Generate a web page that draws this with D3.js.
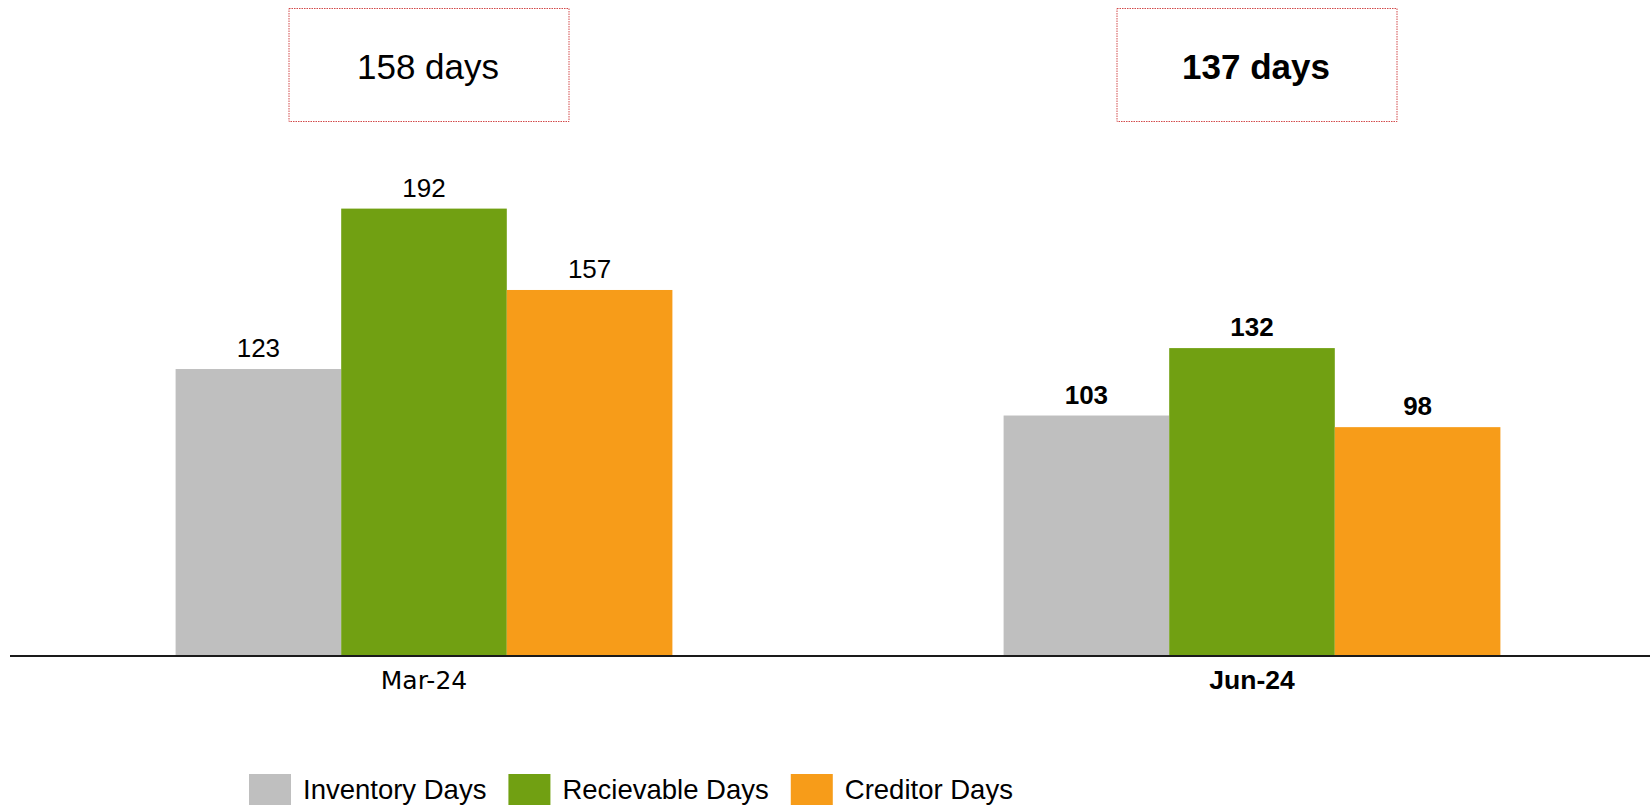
<!DOCTYPE html>
<html>
<head>
<meta charset="utf-8">
<script src="https://cdn.jsdelivr.net/npm/d3@7"></script>
<style>
  html, body { margin: 0; padding: 0; background: #ffffff; }
  svg { display: block; }
</style>
</head>
<body>
<svg id="chart" width="1650" height="805"></svg>
<script>
// Working-capital days by period
const periods = ["Mar-24", "Jun-24"];
const seriesNames = ["Inventory Days", "Recievable Days", "Creditor Days"];
const inventoryDays = [123, 103];
const receivableDays = [192, 132];
const creditorDays = [157, 98];
const cycleDays = [158, 137];
const seriesColors = ["#bfbfbf", "#71a012", "#f79c19"];
const boldPeriod = [false, true];

const seriesValues = [inventoryDays, receivableDays, creditorDays];

const svg = d3.select("#chart");
const W = 1650, H = 805;
const baseY = 655;

const x0 = d3.scaleBand()
  .domain(periods)
  .range([10, 1666])
  .paddingInner(0.4)
  .paddingOuter(0.2);

const x1 = d3.scaleBand()
  .domain(seriesNames)
  .range([0, x0.bandwidth()])
  .padding(0);

const y = d3.scaleLinear()
  .domain([0, 200])
  .range([baseY, 190]);

const color = d3.scaleOrdinal().domain(seriesNames).range(seriesColors);

const rows = periods.map((p, i) => ({
  period: p,
  bold: boldPeriod[i],
  cycle: cycleDays[i],
  values: seriesNames.map((s, k) => ({ series: s, value: seriesValues[k][i], bold: boldPeriod[i] }))
}));

// Bars
const groups = svg.append("g").selectAll("g")
  .data(rows)
  .join("g")
  .attr("transform", d => `translate(${x0(d.period)},0)`);

groups.selectAll("rect")
  .data(d => d.values)
  .join("rect")
  .attr("x", d => x1(d.series))
  .attr("y", d => y(d.value))
  .attr("width", x1.bandwidth())
  .attr("height", d => y(0) - y(d.value))
  .attr("fill", d => color(d.series));

// Value labels above bars
groups.selectAll("text.val")
  .data(d => d.values)
  .join("text")
  .attr("class", "val")
  .attr("x", d => x1(d.series) + x1.bandwidth() / 2)
  .attr("y", d => y(d.value) - 12)
  .attr("text-anchor", "middle")
  .attr("font-family", "'Liberation Sans', Arial, sans-serif")
  .attr("font-size", 26)
  .attr("font-weight", d => d.bold ? "bold" : "normal")
  .attr("fill", "#000")
  .text(d => d.value);

// Category axis
const axis = d3.axisBottom(x0).tickSize(0).tickPadding(0);
const axisG = svg.append("g")
  .attr("transform", `translate(0,${baseY})`)
  .call(axis);
axisG.select(".domain").remove();
axisG.append("line")
  .attr("x1", 10).attr("x2", W)
  .attr("y1", 1).attr("y2", 1)
  .attr("stroke", "#1a1a1a")
  .attr("stroke-width", 2);
axisG.selectAll(".tick text")
  .attr("y", 33.5)
  .attr("dy", null)
  .attr("fill", "#000")
  .attr("font-family", (d, i) => boldPeriod[i] ? "'Liberation Sans', Arial, sans-serif" : "'DejaVu Sans', Verdana, sans-serif")
  .attr("font-size", (d, i) => boldPeriod[i] ? 26.5 : 25)
  .attr("font-weight", (d, i) => boldPeriod[i] ? "bold" : "normal");

// Cycle callout boxes
const boxW = 280, boxTop = 8.5, boxH = 113;
const boxes = svg.append("g").selectAll("g")
  .data(rows)
  .join("g")
  .attr("transform", d => `translate(${x0(d.period) + x0.bandwidth() / 2 + 5},0)`);

boxes.append("rect")
  .attr("x", -boxW / 2)
  .attr("y", boxTop)
  .attr("width", boxW)
  .attr("height", boxH)
  .attr("fill", "#ffffff")
  .attr("stroke", "#d24a4a")
  .attr("stroke-width", 1)
  .attr("stroke-dasharray", "1.5,1");

boxes.append("text")
  .attr("x", -1)
  .attr("y", 78.5)
  .attr("text-anchor", "middle")
  .attr("font-family", "'Liberation Sans', Arial, sans-serif")
  .attr("font-size", 35)
  .attr("font-weight", d => d.bold ? "bold" : "normal")
  .attr("fill", "#000")
  .text(d => `${d.cycle} days`);

// Legend
const legend = svg.append("g").attr("class", "legend");
let lx = 249;
seriesNames.forEach((name) => {
  legend.append("rect")
    .attr("x", lx)
    .attr("y", 774)
    .attr("width", 42)
    .attr("height", 42)
    .attr("fill", color(name));
  const t = legend.append("text")
    .attr("x", lx + 42 + 12)
    .attr("y", 799)
    .attr("font-family", "'Liberation Sans', Arial, sans-serif")
    .attr("font-size", 27.5)
    .attr("fill", "#000")
    .text(name);
  lx = lx + 42 + 12 + t.node().getComputedTextLength() + 22;
});
</script>
</body>
</html>
